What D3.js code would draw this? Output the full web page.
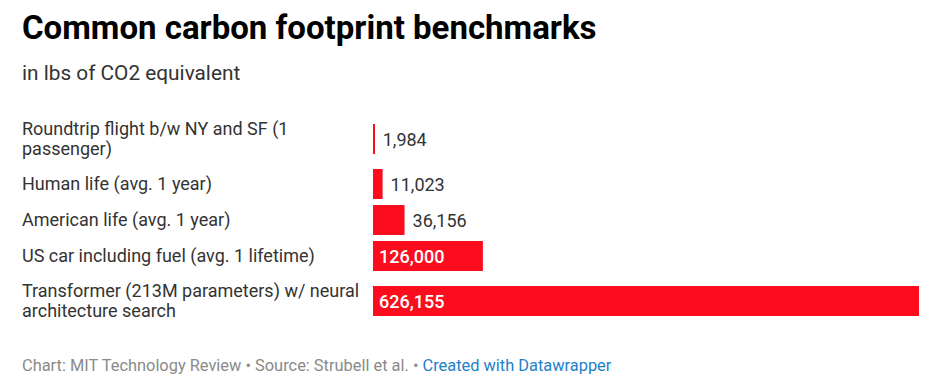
<!DOCTYPE html>
<html><head><meta charset="utf-8">
<script src="https://cdn.jsdelivr.net/npm/d3@7"></script>
<style>
body{margin:0;background:#fff;font-family:Roboto,"Noto Sans",sans-serif;}
</style></head>
<body><svg id="chart" width="937" height="380"></svg>
<script>
const categories = [
  "Roundtrip flight b/w NY and SF (1 passenger)",
  "Human life (avg. 1 year)",
  "American life (avg. 1 year)",
  "US car including fuel (avg. 1 lifetime)",
  "Transformer (213M parameters) w/ neural architecture search"
];
const values = [1984, 11023, 36156, 126000, 626155];
const title = "Common carbon footprint benchmarks";
const subtitle = "in lbs of CO2 equivalent";

const svg = d3.select("#chart");
const red = "#fb0d1e";
const left = 22, barX0 = 373, barX1 = 919;
const labelWidth = 345, lineH = 20, barH = 30;

svg.append("text").attr("x", left).attr("y", 39).attr("font-size", 33).attr("font-weight", 700)
  .attr("fill", "#000").text(title);
svg.append("text").attr("x", left).attr("y", 80).attr("font-size", 20.8).attr("fill", "#333").text(subtitle);

// wrap labels
const measurer = svg.append("text").attr("font-size", 18).attr("visibility", "hidden");
function wrap(str) {
  const words = str.split(" "); const lines = []; let cur = "";
  for (const w of words) {
    const t = cur ? cur + " " + w : w;
    measurer.text(t);
    if (measurer.node().getComputedTextLength() > labelWidth && cur) { lines.push(cur); cur = w; }
    else cur = t;
  }
  lines.push(cur); return lines;
}
const rows = categories.map((c, i) => ({ cat: c, value: values[i], lines: wrap(c) }));
measurer.remove();

// row layout
let yPos = 112;
rows.forEach(r => {
  const h = r.lines.length > 1 ? 54 : 36;
  r.center = yPos + h / 2; yPos += h;
});

const x = d3.scaleLinear().domain([0, d3.max(values)]).range([barX0, barX1]);

const g = svg.selectAll("g.row").data(rows).join("g").attr("class", "row");
g.append("rect").attr("x", x(0)).attr("y", d => d.center - barH / 2)
  .attr("width", d => Math.max(2, x(d.value) - x(0))).attr("height", barH).attr("fill", red);

g.each(function(d) {
  const t = d3.select(this).append("text").attr("x", left).attr("font-size", 18).attr("fill", "#333");
  const n = d.lines.length;
  d.lines.forEach((l, k) => {
    t.append("tspan").attr("x", left)
      .attr("y", d.center + (k - (n - 1) / 2) * lineH + 6).text(l);
  });
});

const fmt = d3.format(",");
const inside = d => (x(d.value) - x(0) > 90);
g.append("text")
  .attr("x", d => inside(d) ? x(0) + 6 : x(d.value) + 8)
  .attr("y", d => d.center + 6.5)
  .attr("font-size", 18)
  .attr("font-weight", d => inside(d) ? 500 : 400)
  .attr("fill", d => inside(d) ? "#fff" : "#333")
  .text(d => fmt(d.value));

const foot = svg.append("text").attr("x", left).attr("y", 371).attr("font-size", 16.4).attr("fill", "#8a8a8a");
foot.append("tspan").text("Chart: MIT Technology Review • Source: Strubell et al. • ");
foot.append("tspan").attr("fill", "#1d81c9").text("Created with Datawrapper");
</script>
</body></html>
